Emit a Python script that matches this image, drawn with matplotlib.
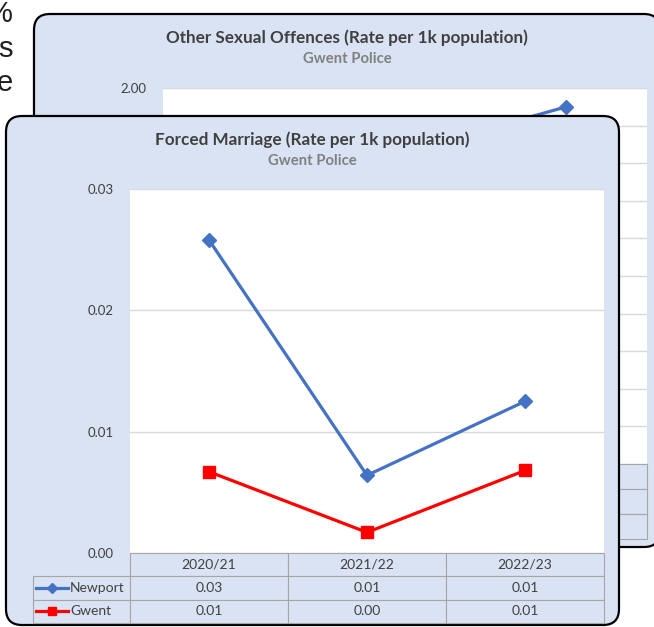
import matplotlib
matplotlib.use('Agg')
import matplotlib.pyplot as plt
from matplotlib.patches import FancyBboxPatch
from matplotlib.lines import Line2D

W, H = 654, 627

# data
years = ['2020/21', '2021/22', '2022/23']
series = ['Newport', 'Gwent']

fm_newport = [0.0258, 0.0064, 0.0125]
fm_gwent = [0.0067, 0.0017, 0.0068]
fm_ticks = [0.00, 0.01, 0.02, 0.03]

# back chart is mostly hidden, only the end of the Newport line shows
oso_newport = [1.45, 1.66, 1.90]
oso_gwent = [1.05, 1.15, 1.25]
oso_ticks = [0.0, 0.2, 0.4, 0.6, 0.8, 1.0, 1.2, 1.4, 1.6, 1.8, 2.0]

PANEL = '#dae3f3'
GRID = '#d9d9d9'
EDGE = '#a6a6a6'
TXT = '#404040'
BLUE = '#4472c4'
RED = '#ff0000'
FONT = 'Lato'

fig = plt.figure(figsize=(W / 100, H / 100), dpi=100)


def px_axes(l, t, r, b):
    return fig.add_axes([l / W, 1 - b / H, (r - l) / W, (b - t) / H])


def chart(panel, plot, tbl_left, row_h, title, newport, gwent, ticks):
    l, t, r, b = panel
    pl, pt, pr, pb = plot

    bg = fig.add_axes([0, 0, 1, 1])
    bg.set_xlim(0, W)
    bg.set_ylim(H, 0)
    bg.axis('off')
    bg.add_patch(FancyBboxPatch((l, t), r - l, b - t,
                                boxstyle='round,pad=0,rounding_size=16',
                                fc=PANEL, ec='black', lw=1.6))
    cx = (l + r) / 2
    bg.text(cx, t + 24, title, ha='center', va='center', fontsize=12.3,
            fontweight='bold', color=TXT, family=FONT)
    bg.text(cx, t + 45, 'Gwent Police', ha='center', va='center', fontsize=10.7,
            fontweight='bold', color='#808080', family=FONT)

    ax = px_axes(pl, pt, pr, pb)
    ax.set_facecolor('white')
    x = range(len(years))
    ax.plot(x, newport, color=BLUE, lw=2.3, marker='D', ms=7.5, zorder=3)
    ax.plot(x, gwent, color=RED, lw=2.3, marker='s', ms=8, zorder=3)
    ax.set_xlim(-0.5, len(years) - 0.5)
    ax.set_ylim(ticks[0], ticks[-1])
    ax.set_yticks(ticks)
    ax.set_yticklabels(['%.2f' % v for v in ticks], family=FONT, fontsize=9.5,
                       color=TXT)
    ax.tick_params(axis='y', length=0, pad=12)
    ax.set_xticks([])
    ax.grid(axis='y', color=GRID, lw=1)
    for s in ax.spines.values():
        s.set_visible(False)

    # data table under the plot
    tax = px_axes(tbl_left, pb, pr, pb + 3 * row_h)
    tax.set_xlim(0, 1)
    tax.set_ylim(0, 1)
    tax.axis('off')
    cells = [[''] + years,
             [series[0]] + ['%.2f' % v for v in newport],
             [series[1]] + ['%.2f' % v for v in gwent]]
    first = pl - tbl_left
    colw = (pr - pl) / len(years)
    tot = pr - tbl_left
    widths = [first / tot] + [colw / tot] * len(years)
    tb = tax.table(cellText=cells, colWidths=widths, bbox=[0, 0, 1, 1],
                   cellLoc='center')
    tb.auto_set_font_size(False)
    tb.set_zorder(1)
    for (i, j), c in tb.get_celld().items():
        c.set_facecolor(PANEL)
        c.set_edgecolor(EDGE)
        c.set_linewidth(0.8)
        c.get_text().set_fontsize(10)
        c.get_text().set_color(TXT)
        c.get_text().set_family(FONT)
        if i == 0 and j == 0:
            c.visible_edges = ''
        if i > 0 and j == 0:
            c.get_text().set_ha('left')
            c.PAD = 37 / first
    # legend keys in the first column
    for i, (col, mk, ms) in enumerate([(BLUE, 'D', 5), (RED, 's', 5.5)]):
        yc = 1 - (i + 1.5) / 3
        x0, x1 = 3 / tot, 35 / tot
        tax.add_line(Line2D([x0, x1], [yc, yc], color=col, lw=2.3, zorder=4))
        tax.add_line(Line2D([(x0 + x1) / 2], [yc], color=col, marker=mk,
                            ms=ms, zorder=4))


# bits of the page text cut off on the left
for txt, yb in [('%', 22), ('s', 57), ('e', 91)]:
    fig.text(13 / W, 1 - yb / H, txt, ha='right', va='baseline', fontsize=21,
             family='Liberation Sans', color='#202020')

chart((34, 14, 660, 547), (163, 88, 647, 464), 66, 25,
      'Other Sexual Offences (Rate per 1k population)',
      oso_newport, oso_gwent, oso_ticks)
chart((6, 116, 619, 625), (130, 189, 604, 553), 33, 23.3,
      'Forced Marriage (Rate per 1k population)',
      fm_newport, fm_gwent, fm_ticks)

fig.savefig('out.png', dpi=100)
